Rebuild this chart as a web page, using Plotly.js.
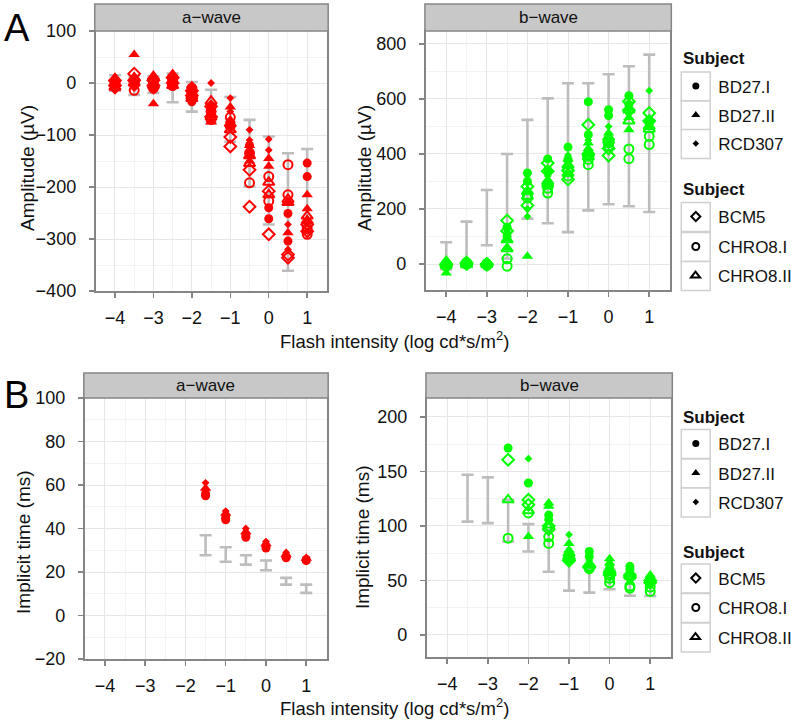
<!DOCTYPE html>
<html><head><meta charset="utf-8">
<script src="https://cdn.plot.ly/plotly-3.0.1.min.js"></script>
<style>html,body{margin:0;padding:0;background:#fff}#chart{width:797px;height:720px}</style>
</head><body><div id="chart"></div>
<script>
// ---------------- data ----------------
const subjects = ['BD27.I', 'BD27.II', 'RCD307', 'BCM5', 'CHRO8.I', 'CHRO8.II'];
const xIntensity = [-4, -3.5, -3, -2.5, -2, -1.5, -1, -0.5, 0, 0.5, 1];

// Panel A, a-wave amplitude (µV), two recordings per subject
const aAmp_BD27I_1   = [0, -5, -3, 2, -36, -45, -75, -120, -261, -251, -154];
const aAmp_BD27I_2   = [-5, 0, -8, -2, -30, -60, -82, -135, -240, -304, -180];
const aAmp_BD27II_1  = [10, 55, 10, 10, -5, -50, -46, -120, -145, -229, -215];
const aAmp_BD27II_2  = [-10, 5, -40, 0, -15, -75, -71, -150, -160, -288, -242];
const aAmp_RCD307_1  = [-15, -10, -15, -5, -10, 0, -29, -90, -108, -272, -270];
const aAmp_RCD307_2  = [-12, -5, -10, 5, -20, -40, -55, -110, -129, -320, -285];
const aAmp_BCM5_1    = [5, 18, 5, 10, -24, -45, -104, -167, -208, -330, -272];
const aAmp_BCM5_2    = [-5, 5, -5, 0, -15, -65, -122, -238, -291, -336, -285];
const aAmp_CHRO8I_1  = [0, -14, 0, 5, -10, -55, -66, -135, -180, -157, -280];
const aAmp_CHRO8I_2  = [-3, -2, -10, -5, -20, -70, -83, -192, -227, -215, -291];
const aAmp_CHRO8II_1 = [8, 10, 12, 15, -30, -35, -78, -140, -191, -224, -256];
const aAmp_CHRO8II_2 = [-8, 0, -5, -5, -25, -65, -90, -155, -215, -230, -265];
const aAmpCtrlHi = [15, 13, 13, 18, 2, -13, -27, -71, -103, -135, -127];
const aAmpCtrlLo = [-15, -23, -19, -37, -55, -78, -113, -199, -272, -361, -275];

// Panel A, b-wave amplitude (µV)
const bAmp_BD27I_1   = [5, 2, 0, 134, 331, 382, 425, 590, 561, 612, 520];
const bAmp_BD27I_2   = [-5, 8, 5, 100, 300, 340, 380, 470, 540, 580, 510];
const bAmp_BD27II_1  = [-33, 5, -5, 60, 28, 306, 380, 440, 476, 533, 525];
const bAmp_BD27II_2  = [15, 0, 8, 90, 260, 282, 355, 420, 434, 488, 500];
const bAmp_RCD307_1  = [0, 10, -3, 119, 173, 300, 395, 450, 537, 560, 630];
const bAmp_RCD307_2  = [5, 3, 3, 110, 200, 320, 370, 410, 500, 545, 515];
const bAmp_BCM5_1    = [0, 5, 0, 158, 282, 367, 307, 506, 394, 591, 549];
const bAmp_BCM5_2    = [-5, 0, -3, 120, 213, 337, 340, 400, 420, 559, 520];
const bAmp_CHRO8I_1  = [0, 0, 0, 19, 240, 258, 320, 361, 430, 418, 464];
const bAmp_CHRO8I_2  = [-8, 5, -5, -8, 250, 275, 345, 380, 440, 383, 434];
const bAmp_CHRO8II_1 = [5, 3, 2, 88, 246, 290, 360, 400, 450, 560, 490];
const bAmp_CHRO8II_2 = [-5, -3, -2, 55, 264, 300, 330, 390, 460, 520, 500];
const bAmpCtrlHi = [79, 154, 269, 400, 524, 602, 657, 657, 690, 719, 761];
const bAmpCtrlLo = [-20, -10, 68, 20, 165, 148, 116, 195, 217, 210, 189];

// Panel B, a-wave implicit time (ms)
const xATime = [-1.5, -1, -0.5, 0, 0.5, 1];
const aTime_BD27I_1  = [55, 44, 36, 31, 26.5, 25.2];
const aTime_BD27I_2  = [56, 45, 37, 32, 27, 25.8];
const aTime_BD27II_1 = [58.5, 47, 38.5, 33, 28, 26.3];
const aTime_RCD307_1 = [61, 48, 40, 34, 29, 26];
const aTimeCtrlHi = [36.9, 31.4, 27.7, 25.3, 17.3, 14.2];
const aTimeCtrlLo = [27.7, 24.7, 23.4, 20.8, 14.2, 10.4];

// Panel B, b-wave implicit time (ms)
const xBTime = [-2.5, -2, -1.5, -1, -0.5, 0, 0.5, 1];
const bTime_BD27I_1   = [171.5, 139.4, 110, 73, 76.6, 62, 63, 50];
const bTime_BD27I_2   = [null, null, 106, 70, 72, 58, 60, 48];
const bTime_BD27II_1  = [null, 90.4, 121, 84, 66, 70, 57, 55];
const bTime_BD27II_2  = [null, null, 118, 78, 64, 66, 55, 53];
const bTime_RCD307_1  = [null, 161.7, 119, 92, 68, 66, 58, 52];
const bTime_BCM5_1    = [160.8, 124, 100, 70, 63, 57, 55, 50];
const bTime_BCM5_2    = [null, 119.4, 97, 68, 62, 55, 53, 48];
const bTime_CHRO8I_1  = [88.8, 112, 90, 70, 61, 48, 43, 40];
const bTime_CHRO8I_2  = [null, null, 84, 72, 63, 52, 45, 44];
const bTime_CHRO8II_1 = [124, 114, 101, 75, 64, 60, 54, 52];
const xBTimeCtrl = [-3.5, -3, -2.5, -2, -1.5, -1, -0.5, 0, 0.5, 1];
const bTimeCtrlHi = [147, 144.6, 124, 101.7, 96, 72, 63, 60, 52, 48];
const bTimeCtrlLo = [104, 102.6, 85.8, 76.6, 58, 40.7, 38.9, 42, 36, 35.8];

// ---------------- style ----------------
const W = 797, H = 720;
const F = 'Liberation Sans, Arial, Helvetica, sans-serif';
const RED = '#ff0000', GREEN = '#00ff00', GREY = '#bdbdbd', FRAME = '#858585';
const symbolOf = {
  'BD27.I':   {symbol: 'circle', size: 9, open: false},
  'BD27.II':  {symbol: 'triangle-up', size: 10, open: false},
  'RCD307':   {symbol: 'diamond', size: 6, open: false},
  'BCM5':     {symbol: 'diamond-open', size: 9, open: true},
  'CHRO8.I':  {symbol: 'circle-open', size: 9, open: true},
  'CHRO8.II': {symbol: 'triangle-up-open', size: 10, open: true}
};
const px = v => v / W;
const py = v => 1 - v / H;

const traces = [];
function ctrlTrace(x, hi, lo, xa, ya) {
  traces.push({
    type: 'scatter', mode: 'markers', x: x, y: hi, xaxis: xa, yaxis: ya,
    marker: {color: 'rgba(0,0,0,0)', size: 1},
    error_y: {type: 'data', symmetric: false, array: hi.map(() => 0),
              arrayminus: hi.map((h, i) => h - lo[i]), color: GREY, thickness: 2.6, width: 6},
    showlegend: false, hoverinfo: 'skip'
  });
}
function subjTrace(subj, x, y, color, xa, ya) {
  const s = symbolOf[subj];
  traces.push({
    type: 'scatter', mode: 'markers', x: x, y: y, xaxis: xa, yaxis: ya, name: subj,
    marker: {symbol: s.symbol, size: s.size, color: color, line: {color: color, width: s.open ? 2 : 0}},
    showlegend: false, cliponaxis: false
  });
}

// Panel A left
ctrlTrace(xIntensity, aAmpCtrlHi, aAmpCtrlLo, 'x', 'y');
[['BD27.I', aAmp_BD27I_1], ['BD27.I', aAmp_BD27I_2], ['BD27.II', aAmp_BD27II_1], ['BD27.II', aAmp_BD27II_2],
 ['RCD307', aAmp_RCD307_1], ['RCD307', aAmp_RCD307_2], ['BCM5', aAmp_BCM5_1], ['BCM5', aAmp_BCM5_2],
 ['CHRO8.I', aAmp_CHRO8I_1], ['CHRO8.I', aAmp_CHRO8I_2], ['CHRO8.II', aAmp_CHRO8II_1], ['CHRO8.II', aAmp_CHRO8II_2]]
 .forEach(([s, v]) => subjTrace(s, xIntensity, v, RED, 'x', 'y'));
// Panel A right
ctrlTrace(xIntensity, bAmpCtrlHi, bAmpCtrlLo, 'x2', 'y2');
[['BD27.I', bAmp_BD27I_1], ['BD27.I', bAmp_BD27I_2], ['BD27.II', bAmp_BD27II_1], ['BD27.II', bAmp_BD27II_2],
 ['RCD307', bAmp_RCD307_1], ['RCD307', bAmp_RCD307_2], ['BCM5', bAmp_BCM5_1], ['BCM5', bAmp_BCM5_2],
 ['CHRO8.I', bAmp_CHRO8I_1], ['CHRO8.I', bAmp_CHRO8I_2], ['CHRO8.II', bAmp_CHRO8II_1], ['CHRO8.II', bAmp_CHRO8II_2]]
 .forEach(([s, v]) => subjTrace(s, xIntensity, v, GREEN, 'x2', 'y2'));
// Panel B left
ctrlTrace(xATime, aTimeCtrlHi, aTimeCtrlLo, 'x3', 'y3');
[['BD27.I', aTime_BD27I_1], ['BD27.I', aTime_BD27I_2], ['BD27.II', aTime_BD27II_1], ['RCD307', aTime_RCD307_1]]
 .forEach(([s, v]) => subjTrace(s, xATime, v, RED, 'x3', 'y3'));
// Panel B right
ctrlTrace(xBTimeCtrl, bTimeCtrlHi, bTimeCtrlLo, 'x4', 'y4');
[['BD27.I', bTime_BD27I_1], ['BD27.I', bTime_BD27I_2], ['BD27.II', bTime_BD27II_1], ['BD27.II', bTime_BD27II_2],
 ['RCD307', bTime_RCD307_1], ['BCM5', bTime_BCM5_1], ['BCM5', bTime_BCM5_2],
 ['CHRO8.I', bTime_CHRO8I_1], ['CHRO8.I', bTime_CHRO8I_2], ['CHRO8.II', bTime_CHRO8II_1]]
 .forEach(([s, v]) => subjTrace(s, xBTime, v, GREEN, 'x4', 'y4'));

// ---------------- legends (one per key) ----------------
const legendCentersA = [86.5, 115.5, 144, 217, 247, 276];
const legendCentersB = [444, 473.5, 502.5, 578.5, 608, 637.5];
const legendSizes = {'BD27.I': 7, 'BD27.II': 8, 'RCD307': 5, 'BCM5': 7, 'CHRO8.I': 7, 'CHRO8.II': 8};
const layoutLegends = {};
const shapes = [];
const annotations = [];
[legendCentersA, legendCentersB].forEach((centers, gi) => {
  subjects.forEach((subj, i) => {
    const n = gi * 6 + i + 1;
    const key = n === 1 ? 'legend' : 'legend' + n;
    const s = symbolOf[subj];
    traces.push({type: 'scatter', mode: 'markers', x: [null], y: [null], name: subj, legend: key,
      marker: {symbol: s.symbol, size: legendSizes[subj], color: '#000', line: {color: '#000', width: s.open ? 2 : 0}},
      showlegend: true, hoverinfo: 'skip'});
    layoutLegends[key] = {x: px(675), xanchor: 'left', y: py(centers[i]), yanchor: 'middle',
      bgcolor: 'rgba(0,0,0,0)', borderwidth: 0, itemwidth: 35,
      font: {family: F, size: 17, color: '#111'}};
    shapes.push({type: 'rect', xref: 'paper', yref: 'paper', x0: px(683), x1: px(712),
      y0: py(centers[i] + 14.5), y1: py(centers[i] - 14.5), line: {color: '#d0d0d0', width: 1.5}, fillcolor: '#fff', layer: 'above'});
  });
});
[58, 190, 417, 552].forEach(cy => annotations.push({text: '<b>Subject</b>', xref: 'paper', yref: 'paper',
  x: px(683), xanchor: 'left', y: py(cy), yanchor: 'middle', showarrow: false, font: {family: F, size: 17, color: '#111'}}));

// ---------------- axes ----------------
const TICKFONT = {family: F, size: 18, color: '#111'};
function xAx(l, r, anchor) {
  return {domain: [px(l), px(r)], range: [-4.5, 1.52], anchor: anchor, tickvals: [-4, -3, -2, -1, 0, 1],
    showline: true, mirror: true, linecolor: FRAME, linewidth: 2, ticks: 'outside', ticklen: 5, tickwidth: 1.5,
    tickcolor: FRAME, showgrid: true, gridcolor: '#e6e6e6', gridwidth: 1, zeroline: false, ticklabelstandoff: 4,
    minor: {dtick: 0.5, tick0: -4.5, showgrid: true, gridcolor: '#f3f3f3', gridwidth: 1},
    tickfont: TICKFONT, fixedrange: true};
}
function yAx(t, b, anchor, range, dtick, mdtick) {
  return {domain: [py(b), py(t)], range: range, anchor: anchor, dtick: dtick, tick0: 0,
    showline: true, mirror: true, linecolor: FRAME, linewidth: 2, ticks: 'outside', ticklen: 5, tickwidth: 1.5,
    tickcolor: FRAME, showgrid: true, gridcolor: '#e6e6e6', gridwidth: 1, zeroline: false, ticklabelstandoff: 9,
    minor: {dtick: mdtick, tick0: 0, showgrid: true, gridcolor: '#f3f3f3', gridwidth: 1},
    tickfont: TICKFONT, fixedrange: true};
}

// strips
const strips = [[96, 328, 4, 31, 'a−wave'], [427, 672, 4, 31, 'b−wave'], [85, 328, 373, 398, 'a−wave'], [428, 673, 373, 398, 'b−wave']];
strips.forEach(([l, r, t, b, txt]) => {
  shapes.push({type: 'rect', xref: 'paper', yref: 'paper', x0: px(l - 1), x1: px(r + 1), y0: py(b), y1: py(t),
    line: {color: FRAME, width: 1.5}, fillcolor: '#c8c8c8', layer: 'above'});
  annotations.push({text: txt, xref: 'paper', yref: 'paper', x: px((l + r) / 2), y: py((t + b) / 2),
    xanchor: 'center', yanchor: 'middle', showarrow: false, font: {family: F, size: 17, color: '#111'}});
});

// axis titles
const yTitles = [[27, 168, 'Amplitude (µV)'], [365, 168, 'Amplitude (µV)'], [23, 542, 'Implicit time (ms)'], [363, 537, 'Implicit time (ms)']];
yTitles.forEach(([x, y, txt]) => annotations.push({text: txt, xref: 'paper', yref: 'paper', x: px(x), y: py(y),
  xanchor: 'center', yanchor: 'middle', textangle: -90, showarrow: false, font: {family: F, size: 19, color: '#111'}}));
[340, 707].forEach(y => annotations.push({text: 'Flash intensity (log cd*s/m<sup>2</sup>)', xref: 'paper', yref: 'paper',
  x: px(395), y: py(y), xanchor: 'center', yanchor: 'middle', showarrow: false, font: {family: F, size: 18.5, color: '#111'}}));
// panel letters
[['A', 28.5], ['B', 394.5]].forEach(([t, y]) => annotations.push({text: t, xref: 'paper', yref: 'paper',
  x: px(2), y: py(y), xanchor: 'left', yanchor: 'middle', showarrow: false, font: {family: F, size: 38, color: '#000'}}));

const layout = Object.assign({
  width: W, height: H, margin: {l: 0, r: 0, t: 0, b: 0}, paper_bgcolor: '#fff', plot_bgcolor: '#fff',
  font: {family: F, color: '#111'},
  xaxis: xAx(96, 328, 'y'), yaxis: yAx(31, 291, 'x', [-400, 100], 100, 50),
  xaxis2: xAx(427, 672, 'y2'), yaxis2: yAx(31, 290, 'x2', [-94.5, 847], 200, 100),
  xaxis3: xAx(85, 328, 'y3'), yaxis3: yAx(398, 659, 'x3', [-20, 100], 20, 10),
  xaxis4: xAx(428, 673, 'y4'), yaxis4: yAx(398, 657, 'x4', [-20.2, 217.4], 50, 25),
  shapes: shapes, annotations: annotations, hovermode: false
}, layoutLegends);

Plotly.newPlot('chart', traces, layout, {displayModeBar: false, staticPlot: true});
</script></body></html>
